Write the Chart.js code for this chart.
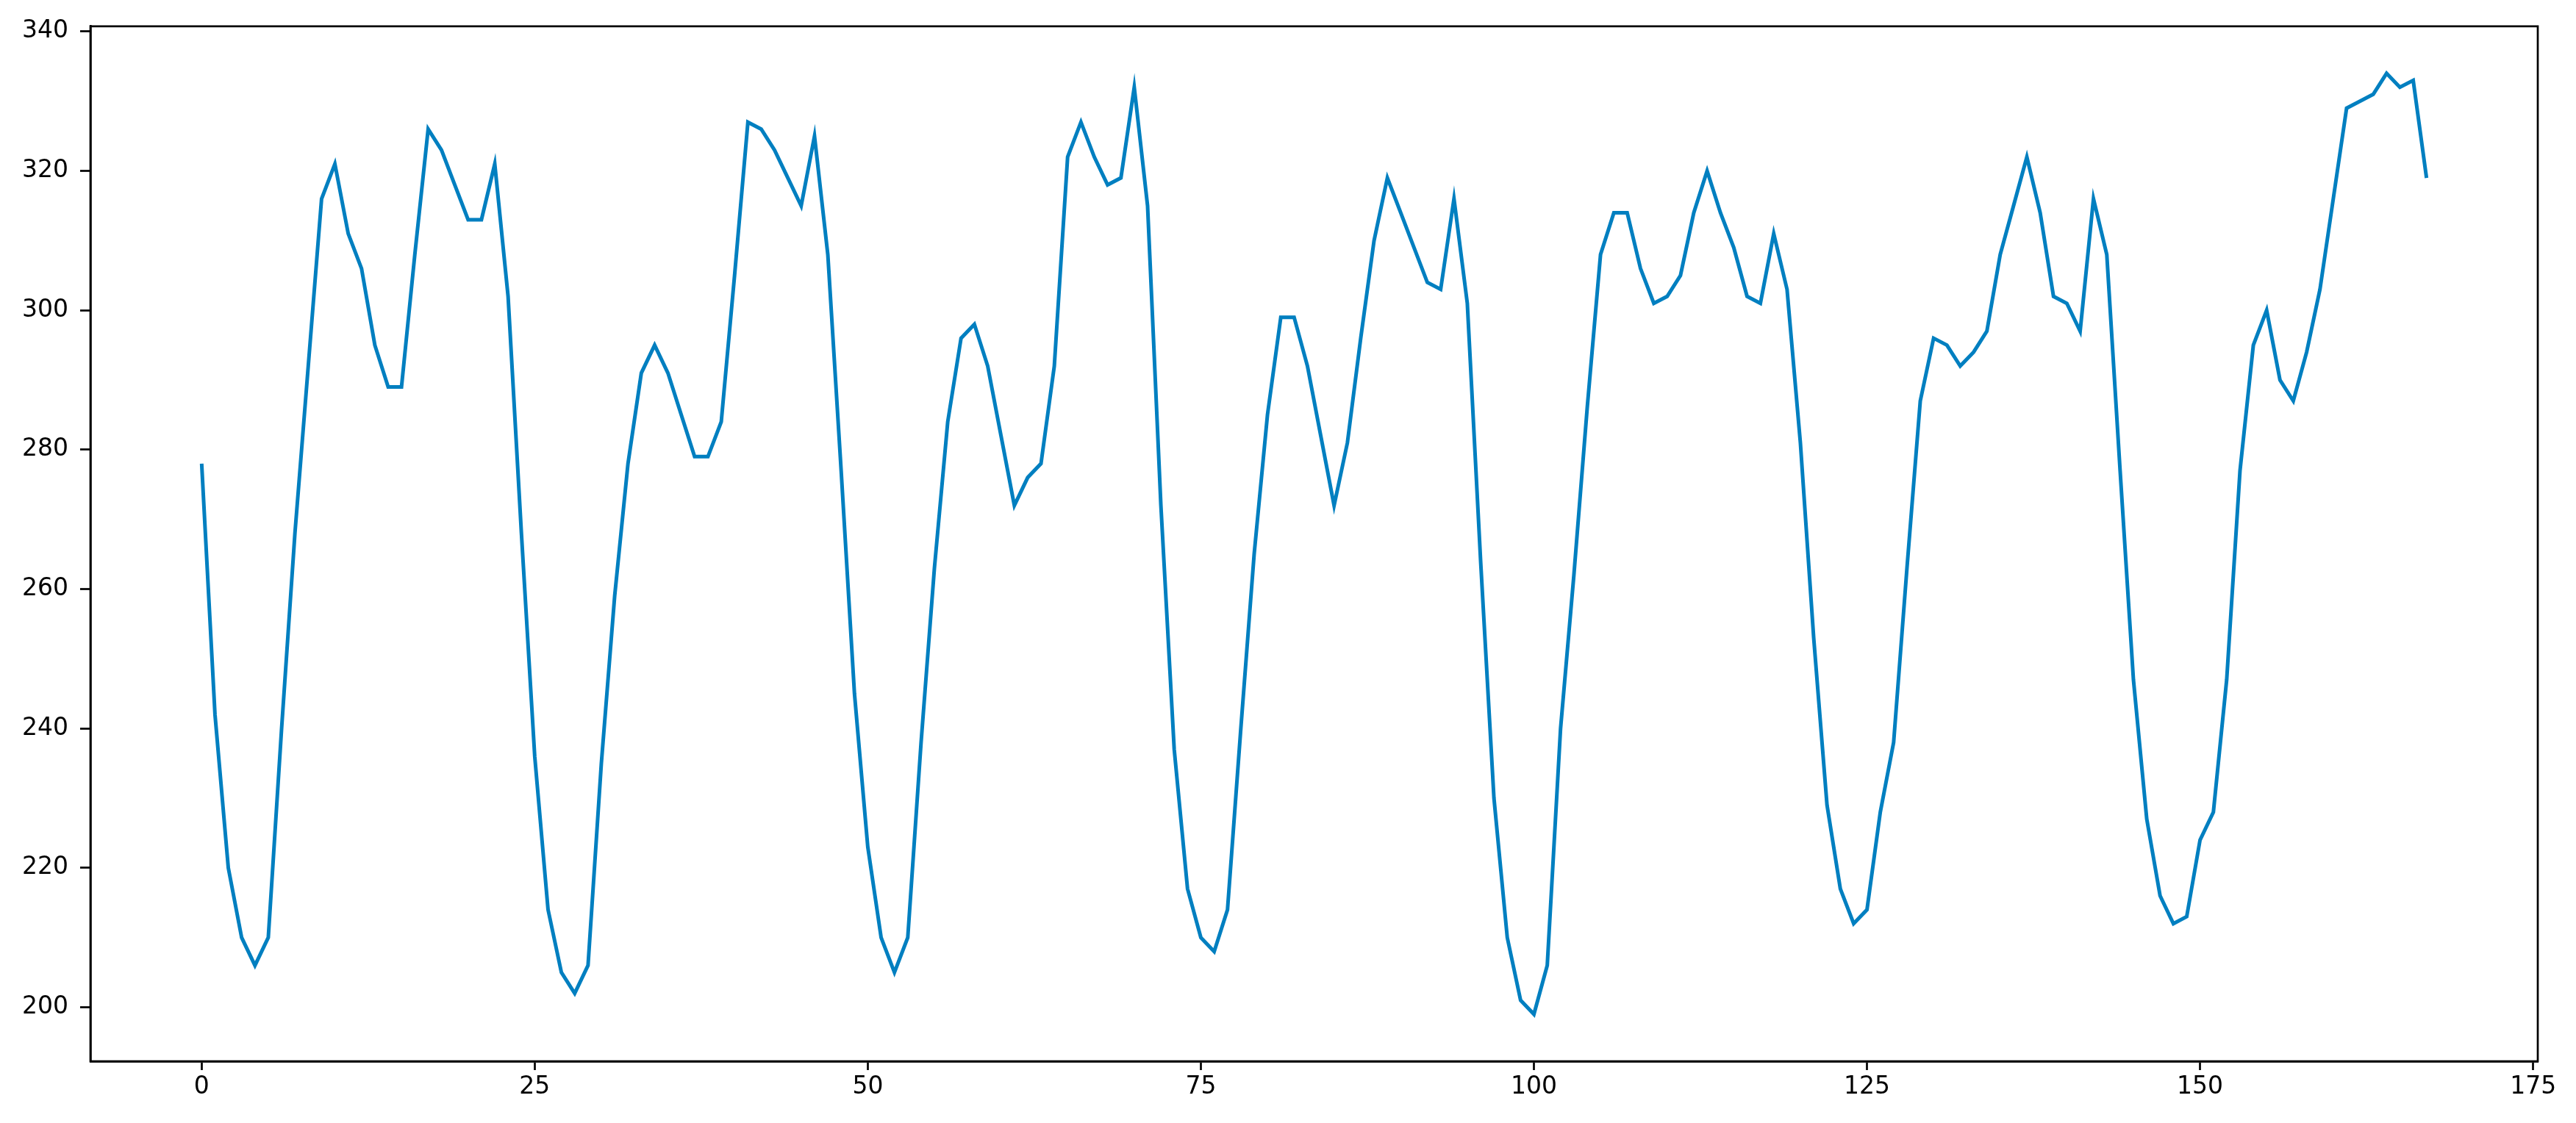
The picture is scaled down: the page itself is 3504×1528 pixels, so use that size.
<!DOCTYPE html>
<html>
<head>
<meta charset="utf-8">
<script src="https://cdn.jsdelivr.net/npm/chart.js@4/dist/chart.umd.min.js"></script>
<style>
  html, body { margin: 0; padding: 0; background: #fff; }
  #wrap { width: 3504px; height: 1528px; }
</style>
</head>
<body>
<div id="wrap"><canvas id="myChart" width="3504" height="1528"></canvas></div>
<script>
// values, one per step 0..167
const values = [
  278, 242, 220, 210, 206, 210, 240, 268, 292, 316,
  321, 311, 306, 295, 289, 289, 308, 326, 323, 318,
  313, 313, 321, 302, 268, 236, 214, 205, 202, 206,
  235, 259, 278, 291, 295, 291, 285, 279, 279, 284,
  305, 327, 326, 323, 319, 315, 325, 308, 277, 245,
  223, 210, 205, 210, 238, 263, 284, 296, 298, 292,
  282, 272, 276, 278, 292, 322, 327, 322, 318, 319,
  332, 315, 272, 237, 217, 210, 208, 214, 240, 265,
  285, 299, 299, 292, 282, 272, 281, 296, 310, 319,
  314, 309, 304, 303, 316, 301, 264, 230, 210, 201,
  199, 206, 240, 262, 286, 308, 314, 314, 306, 301,
  302, 305, 314, 320, 314, 309, 302, 301, 311, 303,
  281, 253, 229, 217, 212, 214, 228, 238, 263, 287,
  296, 295, 292, 294, 297, 308, 315, 322, 314, 302,
  301, 297, 316, 308, 277, 247, 227, 216, 212, 213,
  224, 228, 247, 277, 295, 300, 290, 287, 294, 303,
  316, 329, 330, 331, 334, 332, 333, 319
];

const steps = [];
for (let i = 0; i < values.length; i++) {
  steps.push(i);
}

const xTicks = [0, 25, 50, 75, 100, 125, 150, 175];
const yTicks = [200, 220, 240, 260, 280, 300, 320, 340];

const points = [];
for (let i = 0; i < values.length; i++) {
  points.push({ x: steps[i], y: values[i] });
}

const tickFont = { family: 'DejaVu Sans', size: 33 };

// matplotlib style closed box round the plot
const frame = {
  id: 'frame',
  afterDraw(chart) {
    const a = chart.chartArea;
    const ctx = chart.ctx;
    ctx.save();
    ctx.strokeStyle = '#000';
    ctx.lineWidth = 2.7;
    ctx.strokeRect(a.left, a.top, a.right - a.left, a.bottom - a.top);
    ctx.restore();
  }
};

const config = {
  type: 'line',
  data: {
    datasets: [{
      data: points,
      borderColor: '#007fc0',
      borderWidth: 5,
      pointRadius: 0,
      tension: 0,
      fill: false
    }]
  },
  options: {
    responsive: false,
    animation: false,
    layout: { padding: { top: 29, right: 52, left: 0, bottom: 0 } },
    plugins: { legend: { display: false }, tooltip: { enabled: false } },
    scales: {
      x: {
        type: 'linear',
        min: -8.35,
        max: 175.35,
        afterBuildTicks: (scale) => { scale.ticks = xTicks.map(v => ({ value: v })); },
        afterFit: (scale) => { scale.height = 84; },
        grid: { drawOnChartArea: false, tickLength: 12, tickWidth: 2.7, tickColor: '#000' },
        border: { color: '#000', width: 2.7 },
        ticks: { font: tickFont, color: '#000', padding: 4, maxRotation: 0, autoSkip: false }
      },
      y: {
        min: 192.25,
        max: 340.75,
        afterBuildTicks: (scale) => { scale.ticks = yTicks.map(v => ({ value: v })); },
        afterFit: (scale) => { scale.width = 123; },
        grid: { drawOnChartArea: false, tickLength: 14, tickWidth: 2.7, tickColor: '#000' },
        border: { color: '#000', width: 2.7 },
        ticks: { font: tickFont, color: '#000', padding: 16, autoSkip: false }
      }
    }
  },
  plugins: [frame]
};

const lineChart = new Chart(document.getElementById('myChart'), config);
</script>
</body>
</html>
